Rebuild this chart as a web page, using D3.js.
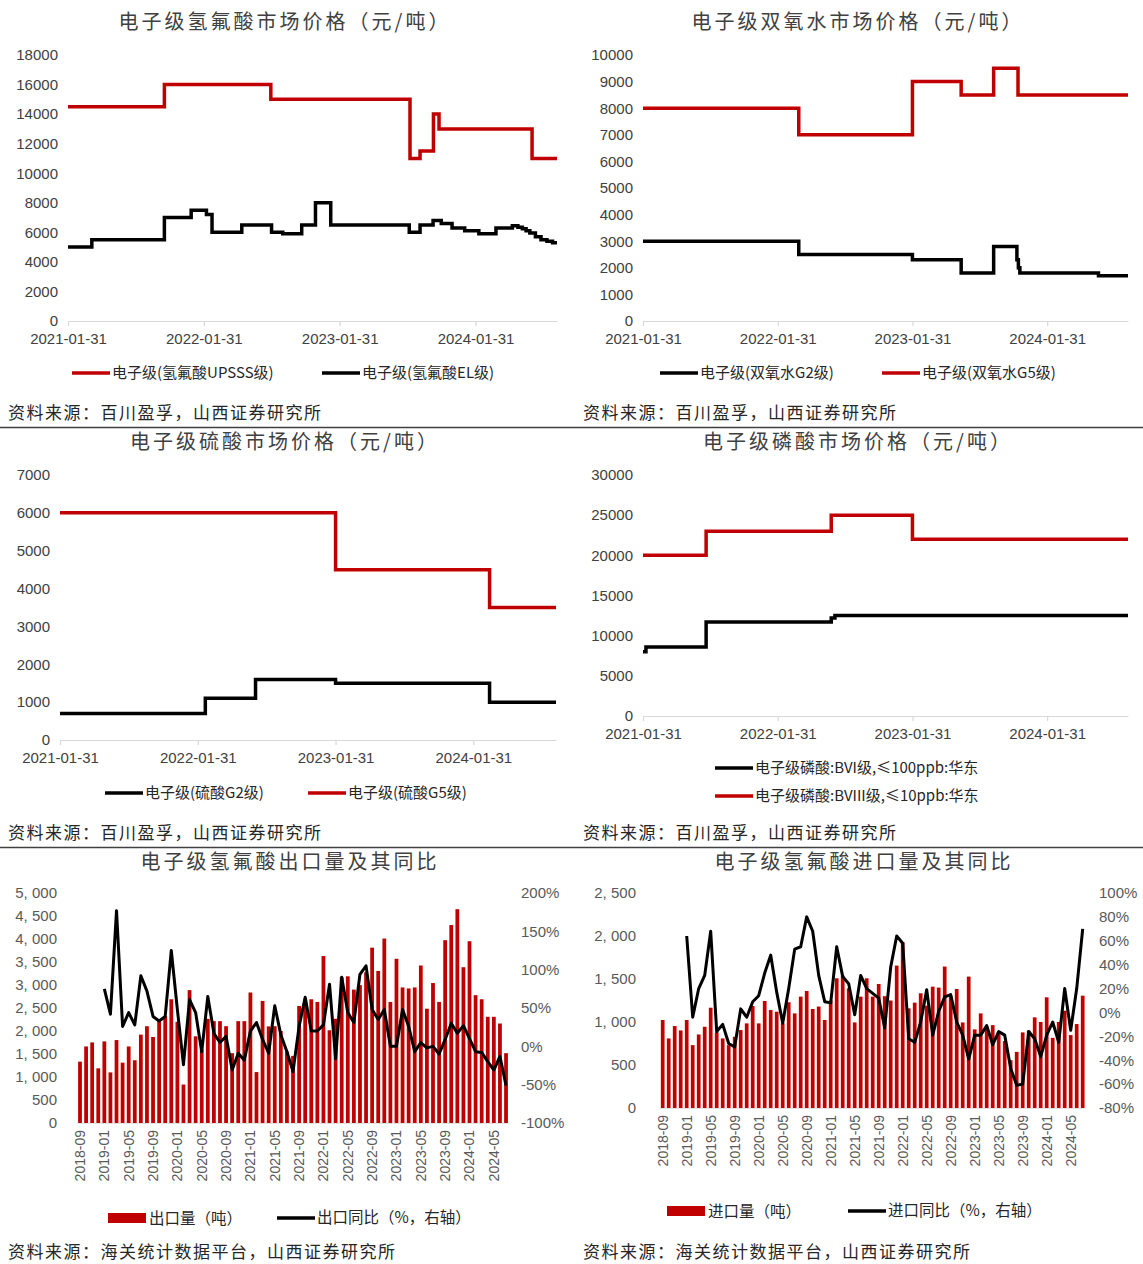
<!DOCTYPE html>
<html><head><meta charset="utf-8">
<script src="https://cdn.jsdelivr.net/npm/d3@7"></script>
<style>
body{margin:0;background:#fff;}
svg{display:block;}
</style></head><body>
<svg id="c" width="1143" height="1264"></svg>
<script>
// ---------- DATA ----------
const priceStart = "2021-01-31", priceEnd = "2024-09-06";
const priceTicks = ["2021-01-31","2022-01-31","2023-01-31","2024-01-31"];

// Panel 1: 电子级氢氟酸
const hfUpDates = ["2021-01-31","2021-10-17","2022-07-30","2023-08-08","2023-09-04","2023-10-10","2023-10-25","2024-07-01","2024-09-06"];
const hfUpVals  = [14500,16000,15000,11000,11500,14000,13000,11000,11000];
const hfElDates = ["2021-01-31","2021-04-05","2021-10-17","2021-12-28","2022-02-07","2022-02-22","2022-05-13","2022-08-01","2022-08-31","2022-10-21","2022-11-27","2023-01-07","2023-08-06","2023-09-04","2023-10-09","2023-10-31","2023-11-29","2024-01-02","2024-02-09","2024-03-26","2024-05-09","2024-05-24","2024-06-05","2024-06-15","2024-06-25","2024-07-10","2024-07-25","2024-08-10","2024-08-25","2024-09-06"];
const hfElVals  = [5000,5500,7000,7500,7200,6000,6500,6000,5900,6500,8000,6500,6000,6500,6800,6600,6300,6100,5900,6300,6450,6350,6250,6100,5950,5700,5500,5400,5300,5300];

// Panel 2: 电子级双氧水
const h2G2Dates = ["2021-01-31","2022-03-29","2023-01-31","2023-06-12","2023-09-08","2023-11-10","2023-11-14","2023-11-18","2024-06-18","2024-09-06"];
const h2G2Vals  = [3000,2500,2300,1800,2800,2300,2000,1800,1700,1700];
const h2G5Dates = ["2021-01-31","2022-03-29","2023-01-31","2023-06-12","2023-09-08","2023-11-13","2024-09-06"];
const h2G5Vals  = [8000,7000,9000,8500,9500,8500,8500];

// Panel 3: 电子级硫酸
const sG2Dates = ["2021-01-31","2022-02-20","2022-07-03","2023-01-31","2024-03-14","2024-09-06"];
const sG2Vals  = [700,1100,1600,1500,1000,1000];
const sG5Dates = ["2021-01-31","2023-01-31","2024-03-14","2024-09-06"];
const sG5Vals  = [6000,4500,3500,3500];

// Panel 4: 电子级磷酸
const pBviDates = ["2021-01-31","2021-02-08","2021-07-21","2022-06-25","2022-07-05","2024-09-06"];
const pBviVals  = [8000,8600,11700,12200,12500,12500];
const pBviiiDates = ["2021-01-31","2021-07-21","2022-06-25","2023-01-31","2024-09-06"];
const pBviiiVals  = [20000,23000,25000,22000,22000];

// Panels 5/6: monthly categories
const months = ["2018-09","2018-10","2018-11","2018-12",
"2019-01","2019-02","2019-03","2019-04","2019-05","2019-06","2019-07","2019-08","2019-09","2019-10","2019-11","2019-12",
"2020-01","2020-02","2020-03","2020-04","2020-05","2020-06","2020-07","2020-08","2020-09","2020-10","2020-11","2020-12",
"2021-01","2021-02","2021-03","2021-04","2021-05","2021-06","2021-07","2021-08","2021-09","2021-10","2021-11","2021-12",
"2022-01","2022-02","2022-03","2022-04","2022-05","2022-06","2022-07","2022-08","2022-09","2022-10","2022-11","2022-12",
"2023-01","2023-02","2023-03","2023-04","2023-05","2023-06","2023-07","2023-08","2023-09","2023-10","2023-11","2023-12",
"2024-01","2024-02","2024-03","2024-04","2024-05","2024-06","2024-07"];
const monthTicks = ["2018-09","2019-01","2019-05","2019-09","2020-01","2020-05","2020-09","2021-01","2021-05","2021-09","2022-01","2022-05","2022-09","2023-01","2023-05","2023-09","2024-01","2024-05"];

// Panel 5: 出口
const exportQty = [1334,1664,1752,1188,1774,1100,1803,1312,1664,1364,
1921,2104,1870,2214,2324,2690,2200,836,2889,1884,
1591,2265,2214,2214,2104,1518,2214,2214,2837,1107,
2654,2100,2104,2000,1554,1459,2544,2690,2690,2632,
3629,2016,2265,3167,3189,2900,2998,3277,3812,3306,
4010,2632,3570,2947,2925,2947,3424,2485,3043,2632,
3974,4303,4648,3387,3952,2779,2690,2309,2309,2163,1518];
const exportYoY = [null,null,null,null,75,42,177,26,44,28,
92,72,39,33,39,125,48,-24,61,44,
-7,65,17,5,13,-31,-9,-18,20,31,
9,-9,53,15,-7,-33,26,64,20,20,
28,81,-16,90,44,31,94,105,48,35,
48,0,0,48,26,-7,5,-2,0,-10,
9,30,17,27,10,-7,-8,-20,-31,-13,-51];

// Panel 6: 进口
const importQty = [1023,809,953,902,1023,731,855,945,1166,880,
809,731,828,906,984,1186,984,1244,1139,1120,
984,1229,1100,1295,1361,1151,1180,1023,1250,1508,
1540,1392,995,1295,1508,1295,1442,1300,1250,1656,
1929,1159,1225,1334,1190,1411,1400,1645,1300,1384,
995,1528,914,1100,945,964,879,778,556,653,
879,900,1054,1000,1287,816,1000,1131,848,976,1306];
const importYoY = [null,null,null,null,64,-4,20,31,68,-16,
-10,-26,-29,3,-4,9,14,33,48,17,
-9,20,53,55,80,68,31,9,8,55,
30,24,-2,31,20,16,12,-13,38,64,
58,-22,-25,-8,19,-19,1,13,15,-8,
-19,-39,-19,-19,-11,-27,-16,-19,-47,-61,
-60,-16,-22,-37,-19,-8,-25,20,-15,20,70];

// ---------- DRAWING ----------
const RED = "#c00000", BLACK = "#000000";
const NUMF = '"Liberation Sans", Arial, "Noto Sans CJK SC", sans-serif';
const CJKF = '"Noto Sans CJK SC", "Liberation Sans", sans-serif';
const svg = d3.select("#c");
const parse = d3.timeParse("%Y-%m-%d");

function title(txt, cx, y){
  svg.append("text").attr("x",cx).attr("y",y).attr("text-anchor","middle")
    .attr("font-family",CJKF).attr("font-size",20).attr("letter-spacing",3)
    .attr("fill","#404040").text(txt);
}
function source(txt, x, y){
  svg.append("text").attr("x",x).attr("y",y).attr("font-family",CJKF)
    .attr("font-size",17).attr("letter-spacing",1.5).attr("fill","#262626").text(txt);
}
function legLine(x, y, color, txt, fs){
  svg.append("line").attr("x1",x).attr("x2",x+38).attr("y1",y).attr("y2",y)
    .attr("stroke",color).attr("stroke-width",3.5);
  svg.append("text").attr("x",x+40).attr("y",y+5).attr("font-family",CJKF)
    .attr("font-size",fs||15).attr("fill","#262626").text(txt);
}
function legRect(x, y, color, txt){
  svg.append("rect").attr("x",x).attr("y",y-5).attr("width",38).attr("height",10).attr("fill",color);
  svg.append("text").attr("x",x+41).attr("y",y+5.5).attr("font-family",CJKF)
    .attr("font-size",15.5).attr("fill","#262626").text(txt);
}

function pricePanel(o){
  const g = svg.append("g");
  const x = d3.scaleTime().domain([parse(priceStart), parse(priceEnd)]).range([o.x0, o.x1]);
  const y = d3.scaleLinear().domain([0, o.yMax]).range([o.yb, o.yt]);
  const ya = g.append("g").attr("transform",`translate(${o.x0-10},0)`)
    .call(d3.axisLeft(y).tickValues(d3.range(0,o.yMax+1,o.yStep)).tickSize(0).tickPadding(0).tickFormat(d3.format("d")));
  ya.attr("font-family",NUMF).attr("font-size",15);
  ya.select(".domain").remove();
  ya.selectAll("text").attr("fill","#404040");
  const xa = g.append("g").attr("transform",`translate(0,${o.yb})`)
    .call(d3.axisBottom(x).tickValues(priceTicks.map(parse)).tickSize(5).tickSizeOuter(0).tickPadding(7).tickFormat(d3.timeFormat("%Y-%m-%d")));
  xa.attr("font-family",NUMF).attr("font-size",15);
  xa.select(".domain").attr("stroke","#d9d9d9").attr("stroke-width",1.2);
  xa.selectAll(".tick line").attr("stroke","#d9d9d9").attr("stroke-width",1.2);
  xa.selectAll("text").attr("fill","#404040");
  const line = d3.line().x(d=>x(d.d)).y(d=>y(d.v)).curve(d3.curveStepAfter);
  o.series.forEach(s=>{
    const data = s.dates.map((d,i)=>({d:parse(d), v:s.vals[i]}));
    g.append("path").datum(data).attr("d",line).attr("fill","none")
      .attr("stroke",s.color).attr("stroke-width",3.5).attr("stroke-linejoin","miter");
  });
}

function commaSpace(d){ return d3.format(",")(d).replace(",", ", "); }

function barPanel(o){
  const g = svg.append("g");
  const step = o.step;
  const x = d3.scaleBand().domain(months).range([o.c0 - step/2, o.c0 - step/2 + step*months.length])
    .paddingInner(0.38).paddingOuter(0.19);
  const yl = d3.scaleLinear().domain([0,o.lMax]).range([o.yb,o.yt]);
  const yr = d3.scaleLinear().domain([o.rMin,o.rMax]).range([o.yb,o.yt]);
  g.selectAll("rect.bar").data(months).enter().append("rect")
    .attr("x",m=>x(m)).attr("width",x.bandwidth())
    .attr("y",(m,i)=>yl(o.qty[i])).attr("height",(m,i)=>yl(0)-yl(o.qty[i]))
    .attr("fill",RED);
  const data = months.map((m,i)=>({m, v:o.yoy[i]}));
  g.append("path").datum(data)
    .attr("d", d3.line().defined(d=>d.v!=null).x(d=>x(d.m)+x.bandwidth()/2).y(d=>yr(d.v)))
    .attr("fill","none").attr("stroke",BLACK).attr("stroke-width",3).attr("stroke-linejoin","round");
  const la = g.append("g").attr("transform",`translate(${o.lx},0)`)
    .call(d3.axisLeft(yl).tickValues(d3.range(0,o.lMax+1,o.lStep)).tickSize(0).tickPadding(0).tickFormat(commaSpace));
  la.attr("font-family",NUMF).attr("font-size",15);
  la.select(".domain").remove();
  la.selectAll("text").attr("fill","#595959");
  const ra = g.append("g").attr("transform",`translate(${o.rx},0)`)
    .call(d3.axisRight(yr).tickValues(d3.range(o.rMin,o.rMax+1,o.rStep)).tickSize(0).tickPadding(0).tickFormat(d=>d+"%"));
  ra.attr("font-family",NUMF).attr("font-size",15);
  ra.select(".domain").remove();
  ra.selectAll("text").attr("fill","#595959");
  g.append("line").attr("x1",x.range()[0]).attr("x2",x.range()[1]).attr("y1",o.yb+0.5).attr("y2",o.yb+0.5)
    .attr("stroke","#e3e3e3").attr("stroke-width",1);
  g.selectAll("text.mt").data(monthTicks).enter().append("text")
    .attr("transform",m=>`translate(${x(m)+x.bandwidth()/2},${o.yb+7}) rotate(-90)`)
    .attr("text-anchor","end").attr("dy","0.35em")
    .attr("font-family",NUMF).attr("font-size",14).attr("fill","#595959").text(m=>m);
}

// Panel 1
title("电子级氢氟酸市场价格（元/吨）", 285, 29);
pricePanel({x0:68,x1:557,yt:55,yb:321,yMax:18000,yStep:2000,
  series:[{dates:hfUpDates,vals:hfUpVals,color:RED},{dates:hfElDates,vals:hfElVals,color:BLACK}]});
legLine(72,373,RED,"电子级(氢氟酸UPSSS级)");
legLine(322,373,BLACK,"电子级(氢氟酸EL级)");
source("资料来源：百川盈孚，山西证券研究所", 8, 419);

// Panel 2
title("电子级双氧水市场价格（元/吨）", 858, 29);
pricePanel({x0:643,x1:1128,yt:55,yb:321,yMax:10000,yStep:1000,
  series:[{dates:h2G5Dates,vals:h2G5Vals,color:RED},{dates:h2G2Dates,vals:h2G2Vals,color:BLACK}]});
legLine(660,373,BLACK,"电子级(双氧水G2级)");
legLine(882,373,RED,"电子级(双氧水G5级)");
source("资料来源：百川盈孚，山西证券研究所", 583, 419);

// separators
svg.append("line").attr("x1",0).attr("x2",1143).attr("y1",427.5).attr("y2",427.5).attr("stroke","#404040").attr("stroke-width",1.5);
svg.append("line").attr("x1",0).attr("x2",1143).attr("y1",847.5).attr("y2",847.5).attr("stroke","#404040").attr("stroke-width",1.5);

// Panel 3
title("电子级硫酸市场价格（元/吨）", 285, 449);
pricePanel({x0:60,x1:556,yt:475,yb:740,yMax:7000,yStep:1000,
  series:[{dates:sG5Dates,vals:sG5Vals,color:RED},{dates:sG2Dates,vals:sG2Vals,color:BLACK}]});
legLine(105,793,BLACK,"电子级(硫酸G2级)");
legLine(308,793,RED,"电子级(硫酸G5级)");
source("资料来源：百川盈孚，山西证券研究所", 8, 839);

// Panel 4
title("电子级磷酸市场价格（元/吨）", 858, 449);
pricePanel({x0:643,x1:1128,yt:475,yb:716,yMax:30000,yStep:5000,
  series:[{dates:pBviiiDates,vals:pBviiiVals,color:RED},{dates:pBviDates,vals:pBviVals,color:BLACK}]});
legLine(715,768,BLACK,"电子级磷酸:BVI级,≤100ppb:华东");
legLine(715,796,RED,"电子级磷酸:BVIII级,≤10ppb:华东");
source("资料来源：百川盈孚，山西证券研究所", 583, 839);

// Panel 5
title("电子级氢氟酸出口量及其同比", 290, 869);
barPanel({c0:80,step:6.086,yt:893,yb:1123,lMax:5000,lStep:500,rMin:-100,rMax:200,rStep:50,
  lx:57,rx:521,qty:exportQty,yoy:exportYoY});
legRect(108,1218,RED,"出口量（吨）");
legLine(277,1218,BLACK,"出口同比（%，右轴）",15.5);
source("资料来源：海关统计数据平台，山西证券研究所", 8, 1258);

// Panel 6
title("电子级氢氟酸进口量及其同比", 864, 869);
barPanel({c0:662.7,step:6.0,yt:893,yb:1108,lMax:2500,lStep:500,rMin:-80,rMax:100,rStep:20,
  lx:636,rx:1099,qty:importQty,yoy:importYoY});
legRect(667,1211,RED,"进口量（吨）");
legLine(848,1211,BLACK,"进口同比（%，右轴）",15.5);
source("资料来源：海关统计数据平台，山西证券研究所", 583, 1258);
</script>
</body></html>
